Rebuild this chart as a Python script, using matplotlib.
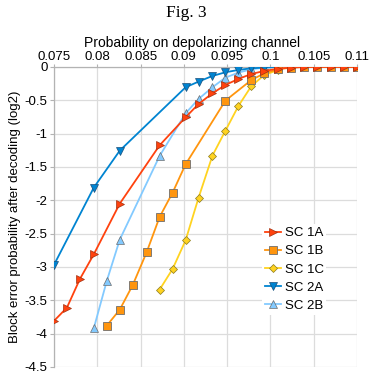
import matplotlib
matplotlib.use('Agg')
import matplotlib.pyplot as plt

plt.rcParams['font.family'] = ['Liberation Sans', 'DejaVu Sans']

# probability values (sample points)
p_1a = [0.0750, 0.0765, 0.0780, 0.0796, 0.0826, 0.0872, 0.0902, 0.0917, 0.0933, 0.0948,
        0.0963, 0.0978, 0.0993, 0.1009, 0.1024, 0.1039, 0.1054, 0.1070, 0.1085, 0.1100]
y_1a = [-3.81, -3.61, -3.18, -2.81, -2.05, -1.175, -0.755, -0.555, -0.395, -0.27,
        -0.18, -0.105, -0.06, -0.025, -0.01, 0, 0, 0, 0, 0]

p_1b = [0.0811, 0.0826, 0.0841, 0.0857, 0.0872, 0.0887, 0.0902, 0.0948, 0.0978, 0.0993,
        0.1009, 0.1024, 0.1039, 0.1054, 0.1070, 0.1085, 0.1100]
y_1b = [-3.88, -3.64, -3.27, -2.78, -2.25, -1.885, -1.46, -0.505, -0.195, -0.095,
        -0.035, -0.01, 0, 0, 0, 0, 0]

p_1c = [0.0872, 0.0887, 0.0902, 0.0917, 0.0933, 0.0948, 0.0963, 0.0978, 0.0993, 0.1009]
y_1c = [-3.34, -3.03, -2.60, -1.96, -1.33, -0.955, -0.585, -0.285, -0.12, -0.045]

p_2a = [0.0750, 0.0796, 0.0826, 0.0902, 0.0917, 0.0933, 0.0948, 0.0963, 0.0978, 0.0993, 0.1009]
y_2a = [-2.97, -1.81, -1.255, -0.305, -0.22, -0.135, -0.08, -0.045, -0.02, -0.01, 0]

p_2b = [0.0796, 0.0811, 0.0826, 0.0872, 0.0902, 0.0917, 0.0933, 0.0948, 0.0963, 0.0978, 0.0993, 0.1009]
y_2b = [-3.92, -3.21, -2.59, -1.335, -0.695, -0.48, -0.305, -0.16, -0.085, -0.035, -0.01, 0]

fig = plt.figure(figsize=(3.72, 3.76), dpi=100)
ax = fig.add_axes([0.145, 0.024, 0.815, 0.798])

fig.text(0.5, 0.966, 'Fig. 3', ha='center', va='center', fontsize=12.5,
         family=['Liberation Serif', 'DejaVu Serif'])

edge = '#6e6e6e'
ax.plot(p_1a, y_1a, color='#ff420e', marker='>', ms=5.5, mec='#a03010', mew=0.5, lw=1.3,
        label='SC 1A', zorder=7)
ax.plot(p_1b, y_1b, color='#ff950e', marker='s', ms=5.5, mec=edge, mew=0.6, lw=1.3,
        label='SC 1B', zorder=6)
ax.plot(p_1c, y_1c, color='#ffd320', marker='D', ms=3.8, mec='#8a7a20', mew=0.5, lw=1.3,
        label='SC 1C', zorder=5)
ax.plot(p_2a, y_2a, color='#0084d1', marker='v', ms=5.5, mec='#1a4f7a', mew=0.5, lw=1.3,
        label='SC 2A', zorder=4)
ax.plot(p_2b, y_2b, color='#83caff', marker='^', ms=5.5, mec=edge, mew=0.5, lw=1.3,
        label='SC 2B', zorder=3)

ax.set_xlim(0.075, 0.11)
ax.set_ylim(-4.5, 0)
ax.set_xticks([0.075, 0.08, 0.085, 0.09, 0.095, 0.1, 0.105, 0.11])
ax.set_xticklabels(['0.075', '0.08', '0.085', '0.09', '0.095', '0.1', '0.105', '0.11'])
ax.set_yticks([0, -0.5, -1, -1.5, -2, -2.5, -3, -3.5, -4, -4.5])
ax.set_yticklabels(['0', '-0.5', '-1', '-1.5', '-2', '-2.5', '-3', '-3.5', '-4', '-4.5'])
ax.xaxis.tick_top()
ax.xaxis.set_label_position('top')
ax.tick_params(axis='both', labelsize=9.5, color='#b3b3b3', length=3, width=0.8, pad=1.5)
ax.tick_params(axis='x', length=2, pad=0.5)
ax.set_xlabel('Probability on depolarizing channel', fontsize=10, labelpad=3.5)
ax.xaxis.set_label_coords(0.455, 1.065)
ax.set_ylabel('Block error probability after decoding (log2)', fontsize=9.5, labelpad=3)

ax.grid(True, color='#dcdcdc', lw=0.9)
ax.set_axisbelow(True)
for s in ['right', 'bottom']:
    ax.spines[s].set_visible(False)
for s in ['left', 'top']:
    ax.spines[s].set_color('#b3b3b3')
    ax.spines[s].set_linewidth(0.9)

leg = ax.legend(loc='upper left', bbox_to_anchor=(0.665, 0.497), frameon=True,
                fontsize=9.5, handlelength=1.2, handletextpad=0.3, labelspacing=0.45,
                borderpad=0.2, fancybox=False)
leg.get_frame().set_edgecolor('none')
leg.get_frame().set_facecolor('white')
leg.get_frame().set_alpha(1)

fig.savefig('out.png', dpi=100)
